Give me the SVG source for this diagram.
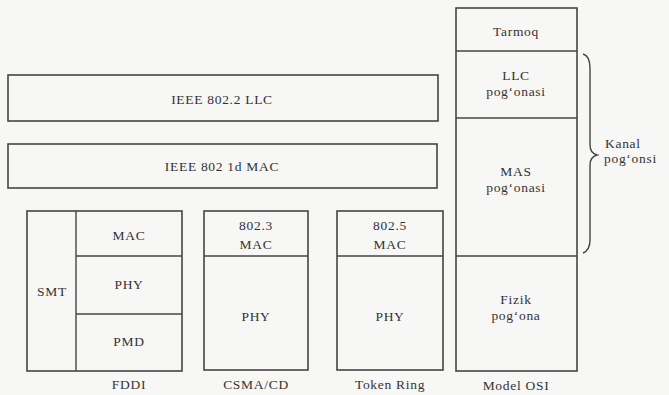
<svg xmlns="http://www.w3.org/2000/svg" width="669" height="395" viewBox="0 0 669 395">
<style>
.b{fill:none;stroke:#444;stroke-width:1.6}
.l{stroke:#444;stroke-width:1.4}
text{font-family:'Liberation Serif','Times New Roman',serif;font-size:13.5px;letter-spacing:0.7px;fill:#333;text-anchor:middle}
.s{text-anchor:start}
</style>
<rect width="669" height="395" fill="#f7f7f5"/>
<g id="llc"><rect class="b" x="8" y="75" width="430" height="46"/><text x="222" y="104">IEEE 802.2 LLC</text></g>
<g id="mac"><rect class="b" x="8" y="144" width="429" height="44"/><text x="222" y="171">IEEE 802 1d MAC</text></g>
<g id="fddi">
<rect class="b" x="27" y="211" width="155" height="160"/>
<line class="l" x1="76" y1="211" x2="76" y2="371"/>
<line class="l" x1="76" y1="256" x2="182" y2="256"/>
<line class="l" x1="76" y1="314" x2="182" y2="314"/>
<text x="52" y="296">SMT</text>
<text x="129" y="240">MAC</text>
<text x="129" y="289">PHY</text>
<text x="129" y="346">PMD</text>
<text x="129" y="389">FDDI</text>
</g>
<g id="csma">
<rect class="b" x="204" y="211" width="104" height="159"/>
<line class="l" x1="204" y1="256" x2="308" y2="256"/>
<text x="256" y="230">802.3</text>
<text x="256" y="249">MAC</text>
<text x="256" y="321">PHY</text>
<text x="256" y="389">CSMA/CD</text>
</g>
<g id="token">
<rect class="b" x="337" y="211" width="106" height="159"/>
<line class="l" x1="337" y1="256" x2="443" y2="256"/>
<text x="390" y="230">802.5</text>
<text x="390" y="249">MAC</text>
<text x="390" y="321">PHY</text>
<text x="390" y="389">Token Ring</text>
</g>
<g id="osi">
<rect class="b" x="456" y="8" width="121" height="363"/>
<line class="l" x1="456" y1="51" x2="577" y2="51"/>
<line class="l" x1="456" y1="118" x2="577" y2="118"/>
<line class="l" x1="456" y1="256" x2="577" y2="256"/>
<text x="516" y="36">Tarmoq</text>
<text x="516" y="80">LLC</text>
<text x="516" y="96">pog‘onasi</text>
<text x="516" y="176">MAS</text>
<text x="516" y="192">pog‘onasi</text>
<text x="516" y="304">Fizik</text>
<text x="516" y="320">pog‘ona</text>
<text x="516" y="390">Model OSI</text>
</g>
<g id="connectors">
<path d="M583,54 Q590,56 590,68 L590,145 Q590,153 597,155 Q590,157 590,165 L590,240 Q590,250 583,253" fill="none" stroke="#444" stroke-width="1.4"/>
</g>
<g id="kanal">
<text class="s" x="605" y="148">Kanal</text>
<text class="s" x="604" y="163">pog‘onsi</text>
</g>
</svg>
